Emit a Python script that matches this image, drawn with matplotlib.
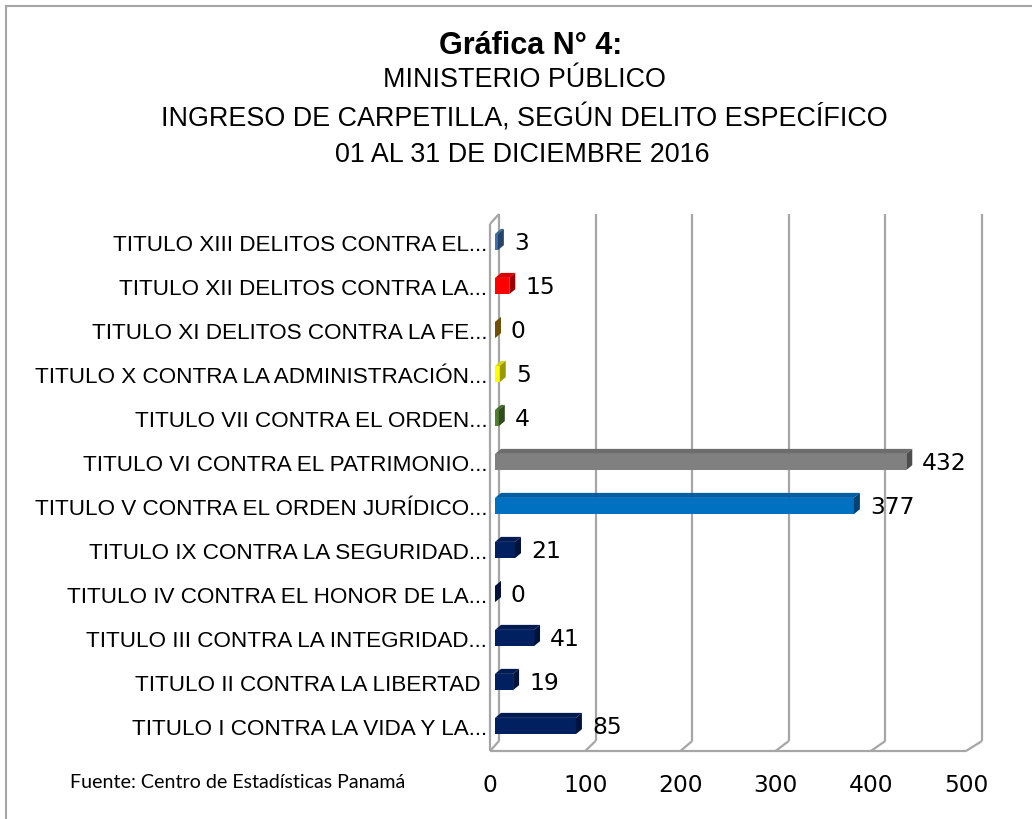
import numpy as np
import matplotlib
matplotlib.use('Agg')
from matplotlib import pyplot as plt
from matplotlib.patches import Polygon
from matplotlib.colors import to_rgb


categories = ['TITULO I CONTRA LA VIDA Y LA...',
              'TITULO II CONTRA LA LIBERTAD ',
              'TITULO III CONTRA LA INTEGRIDAD...',
              'TITULO IV CONTRA EL HONOR DE LA...',
              'TITULO IX CONTRA LA SEGURIDAD...',
              'TITULO V CONTRA EL ORDEN JURÍDICO...',
              'TITULO VI CONTRA EL PATRIMONIO...',
              'TITULO VII CONTRA EL ORDEN...',
              'TITULO X CONTRA LA ADMINISTRACIÓN...',
              'TITULO XI DELITOS CONTRA LA FE...',
              'TITULO XII DELITOS CONTRA LA...',
              'TITULO XIII DELITOS CONTRA EL...']
values = [85, 19, 41, 0, 21, 377, 432, 4, 5, 0, 15, 3]
colors = ['#002060', '#002060', '#002060', '#002060', '#002060', '#0070C0',
          '#808080', '#4F7F2F', '#FFFF00', '#B8860B', '#FF0000', '#3F72A8']
value_ticks = [0, 100, 200, 300, 400, 500]
title_lines = ['Gráfica N° 4:', 'MINISTERIO PÚBLICO',
               'INGRESO DE CARPETILLA, SEGÚN DELITO ESPECÍFICO',
               '01 AL 31 DE DICIEMBRE 2016']
source = 'Fuente: Centro de Estadísticas Panamá'

plt.rcParams['font.family'] = ['Liberation Sans', 'DejaVu Sans']

W, H = 1032, 820
fig = plt.figure(figsize=(W / 100, H / 100), dpi=100)
ax = fig.add_axes([490 / W, 68 / H, 476 / W, 527 / H])
ax.set_xlim(0, 500)
ax.set_ylim(-0.568, 11.41)
for s in ax.spines.values():
    s.set_visible(False)

# pixel -> data unit helpers for the fake 3D depth
px_x = 476 / 500
px_y = 527 / (11.41 + 0.568)
def dxu(px):
    return px / px_x
def dyu(px):
    return px / px_y

y0, y1 = ax.get_ylim()
by = dyu(10)
grid = '#A6A6A6'
kw = dict(color=grid, lw=1.6, clip_on=False, zorder=1, solid_capstyle='butt')
for v in value_ticks:
    bx = dxu(9 + 7 * v / 500)   # a bit of perspective
    ax.plot([v + bx, v + bx], [y0 + by, y1 + by], **kw)
    ax.plot([v, v + bx], [y0, y0 + by], **kw)
ax.plot([0, 500], [y0, y0], **kw)
ax.plot([0, 0], [y0, y1], **kw)
ax.plot([0, dxu(9)], [y1, y1 + by], **kw)

# bars: front face + top + side
h = 0.37
sx, sy = dxu(6), dyu(5)
shift = dxu(5)
ypos = np.arange(len(values))
ax.barh(ypos, values, height=h, left=shift, color=colors, zorder=3)
for i, (v, c) in enumerate(zip(values, colors)):
    rgb = np.array(to_rgb(c))
    x0, x1 = shift, shift + v
    yb, yt = i - h / 2, i + h / 2
    ax.add_patch(Polygon([(x0, yt), (x1, yt), (x1 + sx, yt + sy), (x0 + sx, yt + sy)],
                         fc=rgb * 0.85, ec='none', zorder=3))
    ax.add_patch(Polygon([(x1, yb), (x1 + sx, yb + sy), (x1 + sx, yt + sy), (x1, yt)],
                         fc=rgb * 0.6, ec='none', zorder=3))
    ax.annotate(str(v), (x1, i), xytext=(11.5, 0), textcoords='offset points',
                va='center', ha='left', fontsize=16.8, family='DejaVu Sans')

ax.set_yticks(ypos, categories, fontsize=16.2)
ax.set_xticks(value_ticks, [str(v) for v in value_ticks], fontsize=16.8,
              family='DejaVu Sans')
ax.tick_params(axis='y', length=0, pad=2)
ax.tick_params(axis='x', length=0, pad=16)

title_y = [46, 80, 118, 155]
title_x = [531, 524, 524, 522]
for i, (t, x, y) in enumerate(zip(title_lines, title_x, title_y)):
    fig.text(x / W, 1 - y / H, t, ha='center', va='center',
             fontsize=22 if i == 0 else 19.4,
             fontweight='bold' if i == 0 else 'normal')

fig.text(70 / W, 1 - 783 / H, source, ha='left', va='center', fontsize=14.1,
         family='Lato')

# outer frame (only left and top edges visible)
fig.add_artist(plt.Line2D([5.5 / W, 5.5 / W], [0, 1 - 6.5 / H], transform=fig.transFigure,
                          color='#A6A6A6', lw=1.5))
fig.add_artist(plt.Line2D([5.5 / W, 1], [1 - 6.5 / H, 1 - 6.5 / H], transform=fig.transFigure,
                          color='#A6A6A6', lw=1.5))

fig.savefig('out.png', dpi=100)
